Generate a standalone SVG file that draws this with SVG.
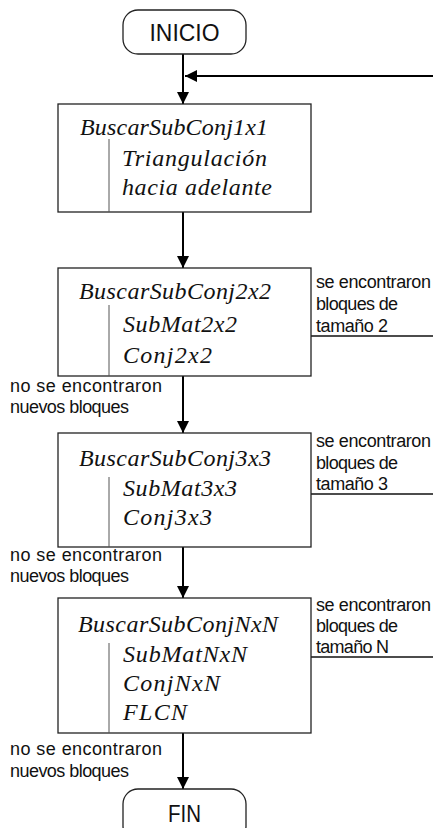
<svg xmlns="http://www.w3.org/2000/svg" width="433" height="828" viewBox="0 0 433 828">
  <defs>
    <marker id="arrow" viewBox="0 0 12 12" markerWidth="12" markerHeight="12" refX="12" refY="6" orient="auto" markerUnits="userSpaceOnUse">
      <path d="M0,0 L12,6 L0,12 z" fill="#000"/>
    </marker>
    <style>
      .term { fill: #fff; stroke: #222; stroke-width: 1.3; }
      .box { fill: #fff; stroke: #222; stroke-width: 1.3; }
      .inner { stroke: #555; stroke-width: 1; fill: none; }
      .flow { stroke: #000; stroke-width: 2; fill: none; }
      .side { stroke: #111; stroke-width: 1.3; fill: none; }
      .tt { font-family: "Liberation Sans", Arial, sans-serif; font-size: 24px; fill: #111; text-anchor: middle; }
      .proc { font-family: "Liberation Serif", "Times New Roman", serif; font-style: italic; font-size: 24px; fill: #111; }
      .lbl { font-family: "Liberation Sans", Arial, sans-serif; font-size: 18px; fill: #111; }
    </style>
  </defs>
  <rect width="433" height="828" fill="#fff"/>

  <!-- connectors -->
  <g id="connectors">
    <line class="flow" x1="183" y1="54" x2="183" y2="104" marker-end="url(#arrow)"/>
    <line class="flow" x1="433" y1="76" x2="185" y2="76" marker-end="url(#arrow)"/>
    <line class="flow" x1="183" y1="212" x2="183" y2="268" marker-end="url(#arrow)"/>
    <line class="flow" x1="183" y1="376" x2="183" y2="433" marker-end="url(#arrow)"/>
    <line class="flow" x1="183" y1="547" x2="183" y2="598" marker-end="url(#arrow)"/>
    <line class="flow" x1="183" y1="733" x2="183" y2="789" marker-end="url(#arrow)"/>
    <line class="side" x1="311" y1="336" x2="433" y2="336"/>
    <line class="side" x1="311" y1="494" x2="433" y2="494"/>
    <line class="side" x1="311" y1="657" x2="433" y2="657"/>

    <text class="lbl" x="316" y="288" textLength="115">se encontraron</text>
    <text class="lbl" x="316" y="310" textLength="82">bloques de</text>
    <text class="lbl" x="316" y="332" textLength="72">tamaño 2</text>

    <text class="lbl" x="316" y="447" textLength="115">se encontraron</text>
    <text class="lbl" x="316" y="469" textLength="82">bloques de</text>
    <text class="lbl" x="316" y="490" textLength="72">tamaño 3</text>

    <text class="lbl" x="316" y="611" textLength="115">se encontraron</text>
    <text class="lbl" x="316" y="632" textLength="82">bloques de</text>
    <text class="lbl" x="316" y="653" textLength="73">tamaño N</text>

    <text class="lbl" x="10" y="392" textLength="152">no se encontraron</text>
    <text class="lbl" x="10" y="413" textLength="119">nuevos bloques</text>

    <text class="lbl" x="10" y="561" textLength="152">no se encontraron</text>
    <text class="lbl" x="10" y="582" textLength="119">nuevos bloques</text>

    <text class="lbl" x="10" y="755" textLength="152">no se encontraron</text>
    <text class="lbl" x="10" y="777" textLength="119">nuevos bloques</text>
  </g>

  <!-- start terminal -->
  <g id="inicio">
    <rect class="term" x="123" y="10" width="123" height="44" rx="15" ry="15"/>
    <text class="tt" x="184.5" y="41" textLength="70" lengthAdjust="spacingAndGlyphs">INICIO</text>
  </g>

  <!-- 1x1 search -->
  <g id="buscar1x1">
    <rect class="box" x="58" y="104" width="253" height="108"/>
    <line class="inner" x1="109" y1="139" x2="109" y2="212"/>
    <text class="proc" x="80" y="135" textLength="188">BuscarSubConj1x1</text>
    <text class="proc" x="122" y="166" textLength="145">Triangulación</text>
    <text class="proc" x="122" y="195" textLength="150">hacia adelante</text>
  </g>

  <!-- 2x2 search -->
  <g id="buscar2x2">
    <rect class="box" x="58" y="268" width="253" height="108"/>
    <line class="inner" x1="109" y1="305" x2="109" y2="376"/>
    <text class="proc" x="79" y="299" textLength="192">BuscarSubConj2x2</text>
    <text class="proc" x="123" y="332" textLength="114">SubMat2x2</text>
    <text class="proc" x="123" y="363" textLength="89">Conj2x2</text>
  </g>

  <!-- 3x3 search -->
  <g id="buscar3x3">
    <rect class="box" x="58" y="433" width="253" height="114"/>
    <line class="inner" x1="109" y1="477" x2="109" y2="547"/>
    <text class="proc" x="79" y="466" textLength="192">BuscarSubConj3x3</text>
    <text class="proc" x="123" y="496" textLength="114">SubMat3x3</text>
    <text class="proc" x="123" y="525" textLength="89">Conj3x3</text>
  </g>

  <!-- NxN search -->
  <g id="buscarNxN">
    <rect class="box" x="58" y="598" width="253" height="135"/>
    <line class="inner" x1="109" y1="643" x2="109" y2="733"/>
    <text class="proc" x="78" y="632" textLength="200">BuscarSubConjNxN</text>
    <text class="proc" x="123" y="662" textLength="124">SubMatNxN</text>
    <text class="proc" x="123" y="691" textLength="97">ConjNxN</text>
    <text class="proc" x="123" y="720" textLength="64">FLCN</text>
  </g>

  <!-- end terminal -->
  <g id="fin">
    <rect class="term" x="123" y="789" width="123" height="52" rx="15" ry="15"/>
    <text class="tt" x="184.5" y="822" textLength="33" lengthAdjust="spacingAndGlyphs">FIN</text>
  </g>
</svg>
